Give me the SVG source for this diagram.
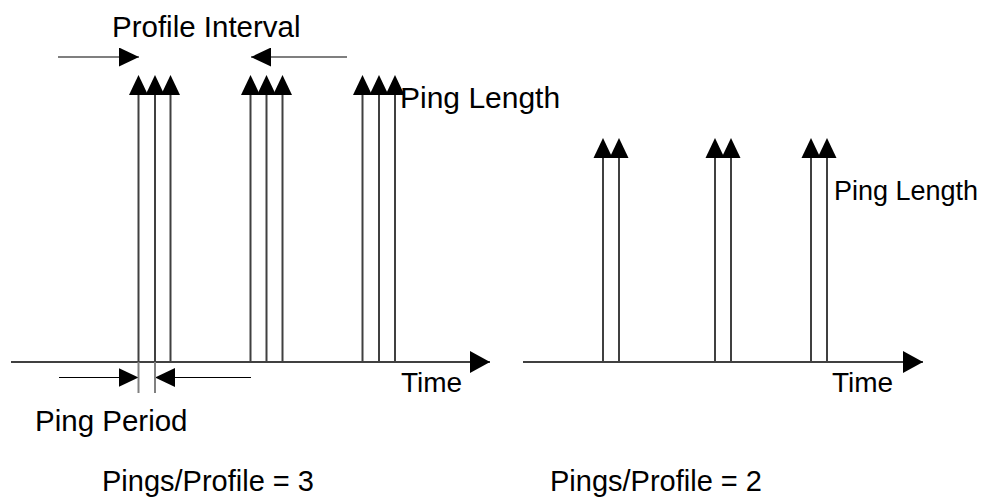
<svg xmlns="http://www.w3.org/2000/svg" width="1000" height="503" viewBox="0 0 1000 503">
<style>
text{font-family:"Liberation Sans",Arial,sans-serif;font-size:29px;fill:#000}
.small{font-size:27px}
.bottom{font-size:29px}
.pulse{stroke:#404040;stroke-width:2;fill:none}
.axis{stroke:#000;stroke-width:1.5;fill:none}
.dim{stroke:#000;stroke-width:1.2;fill:none}
.guide{stroke:#808080;stroke-width:2;fill:none}
.tri{fill:#000;stroke:none}
</style>
<defs>
<marker id="axisArrow" markerUnits="userSpaceOnUse" markerWidth="21" markerHeight="22" refX="20" refY="11" orient="auto" viewBox="0 0 21 22"><path d="M0,0 L20,11 L0,22 z" fill="#000"/></marker>
<marker id="dimArrow" markerUnits="userSpaceOnUse" markerWidth="21" markerHeight="19" refX="20" refY="9.5" orient="auto" viewBox="0 0 21 19"><path d="M0,0 L20,9.5 L0,19 z" fill="#000"/></marker>
<path id="tip" d="M-9.5,20 L0,0 L9.5,20 z"/>
</defs>

<g id="connectors">
<line class="axis" x1="11" y1="362" x2="490" y2="362" marker-end="url(#axisArrow)"/>
<line class="axis" x1="523" y1="362" x2="923" y2="362" marker-end="url(#axisArrow)"/>
<line class="dim" x1="58" y1="57" x2="139" y2="57" marker-end="url(#dimArrow)"/>
<line class="dim" x1="347" y1="57" x2="251" y2="57" marker-end="url(#dimArrow)"/>
<line class="dim" x1="59" y1="377.5" x2="138.5" y2="377.5" marker-end="url(#dimArrow)"/>
<line class="dim" x1="251" y1="377.5" x2="155" y2="377.5" marker-end="url(#dimArrow)"/>
<line class="guide" x1="138.5" y1="362" x2="138.5" y2="393"/>
<line class="guide" x1="155" y1="362" x2="155" y2="393"/>
</g>

<g id="pulses-left">
<line class="pulse" x1="138.5" y1="95" x2="138.5" y2="362"/>
<line class="pulse" x1="155" y1="95" x2="155" y2="362"/>
<line class="pulse" x1="170.5" y1="95" x2="170.5" y2="362"/>
<line class="pulse" x1="250.5" y1="95" x2="250.5" y2="362"/>
<line class="pulse" x1="266.5" y1="95" x2="266.5" y2="362"/>
<line class="pulse" x1="282.5" y1="95" x2="282.5" y2="362"/>
<line class="pulse" x1="362.5" y1="95" x2="362.5" y2="362"/>
<line class="pulse" x1="379" y1="95" x2="379" y2="362"/>
<line class="pulse" x1="395" y1="95" x2="395" y2="362"/>
<use href="#tip" class="tri" x="138.5" y="75"/>
<use href="#tip" class="tri" x="155" y="75"/>
<use href="#tip" class="tri" x="170.5" y="75"/>
<use href="#tip" class="tri" x="250.5" y="75"/>
<use href="#tip" class="tri" x="266.5" y="75"/>
<use href="#tip" class="tri" x="282.5" y="75"/>
<use href="#tip" class="tri" x="362.5" y="75"/>
<use href="#tip" class="tri" x="379" y="75"/>
<use href="#tip" class="tri" x="395" y="75"/>
</g>

<g id="pulses-right">
<line class="pulse" x1="603" y1="158" x2="603" y2="362"/>
<line class="pulse" x1="619" y1="158" x2="619" y2="362"/>
<line class="pulse" x1="715" y1="158" x2="715" y2="362"/>
<line class="pulse" x1="731" y1="158" x2="731" y2="362"/>
<line class="pulse" x1="811" y1="158" x2="811" y2="362"/>
<line class="pulse" x1="827" y1="158" x2="827" y2="362"/>
<use href="#tip" class="tri" x="603" y="138"/>
<use href="#tip" class="tri" x="619" y="138"/>
<use href="#tip" class="tri" x="715" y="138"/>
<use href="#tip" class="tri" x="731" y="138"/>
<use href="#tip" class="tri" x="811" y="138"/>
<use href="#tip" class="tri" x="827" y="138"/>
</g>

<g id="labels">
<text x="112" y="37" style="font-size:29.5px">Profile Interval</text>
<text x="400" y="108" style="font-size:30px">Ping Length</text>
<text x="834" y="200" class="small">Ping Length</text>
<text x="401" y="392" style="font-size:28px">Time</text>
<text x="832" y="392" style="font-size:28px">Time</text>
<text x="35" y="431" style="font-size:29.5px">Ping Period</text>
<text x="102" y="491" class="bottom">Pings/Profile = 3</text>
<text x="550" y="491" class="bottom">Pings/Profile = 2</text>
</g>
</svg>
